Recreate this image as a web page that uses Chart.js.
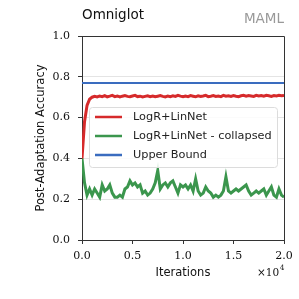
<!DOCTYPE html>
<html>
<head>
<meta charset="utf-8">
<script src="https://cdn.jsdelivr.net/npm/chart.js@4.4.1/dist/chart.umd.min.js"></script>
<style>
  html, body { margin: 0; padding: 0; background: #fff; }
  #wrap { width: 299px; height: 299px; }
</style>
</head>
<body>
<div id="wrap"><canvas id="chart" width="299" height="299"></canvas></div>
<script>
/* ============================================================
   DATA
============================================================ */

const iterations = [
    0, 250, 500, 750, 1000, 1250, 1500, 1750, 2000, 2250,
    2500, 2750, 3000, 3250, 3500, 3750, 4000, 4250, 4500, 4750,
    5000, 5250, 5500, 5750, 6000, 6250, 6500, 6750, 7000, 7250,
    7500, 7750, 8000, 8250, 8500, 8750, 9000, 9250, 9500, 9750,
    10000, 10250, 10500, 10750, 11000, 11250, 11500, 11750, 12000, 12250,
    12500, 12750, 13000, 13250, 13500, 13750, 14000, 14250, 14500, 14750,
    15000, 15250, 15500, 15750, 16000, 16250, 16500, 16750, 17000, 17250,
    17500, 17750, 18000, 18250, 18500, 18750, 19000, 19250, 19500, 19750,
    20000
];

const linNetAcc = [
    0.40, 0.58, 0.66, 0.69, 0.700, 0.704, 0.701, 0.706, 0.703, 0.708,
    0.702, 0.705, 0.709, 0.703, 0.706, 0.701, 0.705, 0.708, 0.704, 0.702,
    0.706, 0.709, 0.703, 0.705, 0.701, 0.704, 0.707, 0.703, 0.706, 0.702,
    0.705, 0.708, 0.704, 0.701, 0.706, 0.703, 0.707, 0.704, 0.709, 0.705,
    0.702, 0.706, 0.703, 0.708, 0.705, 0.702, 0.707, 0.704, 0.706, 0.709,
    0.703, 0.705, 0.708, 0.704, 0.706, 0.703, 0.709, 0.705, 0.707, 0.704,
    0.708, 0.705, 0.703, 0.707, 0.709, 0.705, 0.708, 0.706, 0.704, 0.709,
    0.706, 0.708, 0.705, 0.709, 0.707, 0.704, 0.708, 0.706, 0.709, 0.707,
    0.708
];

const collapsedAcc = [
    0.40, 0.28, 0.22, 0.25, 0.22, 0.25, 0.23, 0.21, 0.27, 0.24,
    0.25, 0.27, 0.23, 0.21, 0.21, 0.22, 0.21, 0.25, 0.26, 0.29,
    0.27, 0.28, 0.26, 0.27, 0.23, 0.24, 0.22, 0.23, 0.25, 0.28,
    0.34, 0.25, 0.27, 0.28, 0.26, 0.28, 0.29, 0.26, 0.23, 0.27,
    0.26, 0.27, 0.25, 0.27, 0.24, 0.30, 0.24, 0.22, 0.23, 0.26,
    0.24, 0.23, 0.21, 0.22, 0.21, 0.22, 0.24, 0.31, 0.24, 0.23,
    0.24, 0.25, 0.24, 0.25, 0.26, 0.27, 0.24, 0.22, 0.23, 0.24,
    0.23, 0.24, 0.25, 0.22, 0.24, 0.26, 0.22, 0.21, 0.25, 0.22,
    0.21
];

const upperIters = [0, 20000];
const upperAcc = [0.77, 0.77];

const seriesLabels = ["LogR+LinNet", "LogR+LinNet - collapsed", "Upper Bound"];
const seriesColors = ["#d62a2b", "#3b964d", "#3a6cbf"];

const yTicks = [0, 0.2, 0.4, 0.6, 0.8, 1.0];
const xTicks = [0, 5000, 10000, 15000, 20000];

const titleText = "Omniglot";
const tagText = "MAML";
const xTitle = "Iterations";
const yTitle = "Post-Adaptation Accuracy";


/* ============================================================
   HELPERS
============================================================ */

function pairs(xs, ys) {
    return xs.map((x, i) => ({ x: x, y: ys[i] }));
}

const SANS = "'DejaVu Sans', sans-serif";
const SERIF = "'DejaVu Serif', serif";
const AXIS_COLOR = "#333";


/* ============================================================
   DECORATION PLUGIN (titles, frame, legend)
============================================================ */

const decor = {
    id: "decor",
    afterDatasetsDraw(chart) {
        const ctx = chart.ctx;
        const a = chart.chartArea;
        ctx.save();

        // top + right spines
        ctx.strokeStyle = AXIS_COLOR;
        ctx.lineWidth = 1;
        ctx.beginPath();
        ctx.moveTo(a.left, a.top + 0.5);
        ctx.lineTo(a.right + 0.5, a.top + 0.5);
        ctx.lineTo(a.right + 0.5, a.bottom);
        ctx.stroke();

        // legend box
        const lx = 89.5, ly = 107.5, lw = 188, lh = 60;
        ctx.fillStyle = "rgba(255,255,255,0.85)";
        ctx.strokeStyle = "#dcdcdc";
        ctx.beginPath();
        ctx.roundRect(lx, ly, lw, lh, 3);
        ctx.fill();
        ctx.stroke();

        ctx.font = "11.3px " + SANS;
        ctx.textBaseline = "middle";
        ctx.textAlign = "left";
        seriesLabels.forEach((lab, i) => {
            const y = 117 + i * 19;
            ctx.strokeStyle = seriesColors[i];
            ctx.lineWidth = 2.5;
            ctx.beginPath();
            ctx.moveTo(95, y);
            ctx.lineTo(122, y);
            ctx.stroke();
            ctx.fillStyle = "#222";
            ctx.fillText(lab, 133, y + 0.5);
        });

        // title + tag
        ctx.fillStyle = "#111";
        ctx.font = "13.5px " + SANS;
        ctx.textBaseline = "alphabetic";
        ctx.fillText(titleText, 82, 19);

        ctx.fillStyle = "#999";
        ctx.font = "13.5px " + SANS;
        ctx.textAlign = "right";
        ctx.fillText(tagText, 284, 23);

        // x title
        ctx.fillStyle = "#111";
        ctx.font = "11.5px " + SANS;
        ctx.textAlign = "center";
        ctx.fillText(xTitle, 183, 276);

        // x10^4 multiplier
        ctx.font = "10.5px " + SERIF;
        ctx.textAlign = "left";
        ctx.fillText("\u00d710", 257, 276);
        const w = ctx.measureText("\u00d710").width;
        ctx.font = "7.5px " + SERIF;
        ctx.fillText("4", 257 + w + 0.5, 270);

        // y title
        ctx.font = "11.5px " + SANS;
        ctx.textAlign = "center";
        ctx.translate(41, (a.top + a.bottom) / 2);
        ctx.rotate(-Math.PI / 2);
        ctx.textBaseline = "middle";
        ctx.fillText(yTitle, 0, 0);

        ctx.restore();
    }
};


/* ============================================================
   CHART
============================================================ */

new Chart(document.getElementById("chart"), {
    type: "line",
    data: {
        datasets: [
            {
                label: seriesLabels[2],
                data: pairs(upperIters, upperAcc),
                borderColor: seriesColors[2],
                borderWidth: 2,
                pointRadius: 0
            },
            {
                label: seriesLabels[0],
                data: pairs(iterations, linNetAcc),
                borderColor: seriesColors[0],
                borderWidth: 3,
                pointRadius: 0
            },
            {
                label: seriesLabels[1],
                data: pairs(iterations, collapsedAcc),
                borderColor: seriesColors[1],
                borderWidth: 3,
                pointRadius: 0
            }
        ]
    },
    options: {
        responsive: false,
        animation: false,
        devicePixelRatio: 1,
        layout: { padding: { top: 36, right: 15, left: 0, bottom: 0 } },
        plugins: {
            legend: { display: false },
            tooltip: { enabled: false }
        },
        scales: {
            x: {
                type: "linear",
                min: 0,
                max: 20000,
                afterFit: s => { s.height = 59; },
                afterBuildTicks: s => { s.ticks = xTicks.map(v => ({ value: v })); },
                ticks: {
                    color: "#111",
                    font: { family: SERIF, size: 11 },
                    padding: 6,
                    maxRotation: 0,
                    callback: v => (v / 10000).toFixed(1)
                },
                grid: {
                    drawOnChartArea: false,
                    tickLength: 4,
                    tickColor: AXIS_COLOR
                },
                border: { color: AXIS_COLOR, width: 1 }
            },
            y: {
                min: 0,
                max: 1,
                afterFit: s => { s.width = 82; },
                afterBuildTicks: s => { s.ticks = yTicks.map(v => ({ value: v })); },
                ticks: {
                    color: "#111",
                    font: { family: SERIF, size: 11 },
                    padding: 8,
                    callback: v => v.toFixed(1)
                },
                grid: {
                    color: "#e4e4e4",
                    tickLength: 4,
                    tickColor: AXIS_COLOR
                },
                border: { color: AXIS_COLOR, width: 1 }
            }
        }
    },
    plugins: [decor]
});
</script>
</body>
</html>
